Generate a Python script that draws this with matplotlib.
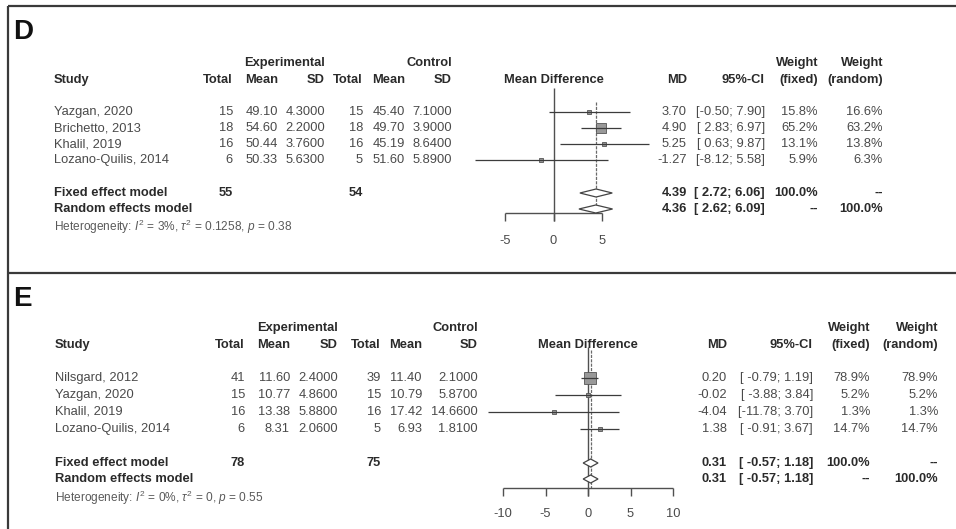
import matplotlib
matplotlib.use("Agg")
import matplotlib.pyplot as plt
from matplotlib.patches import Polygon
import numpy as np

plt.rcParams['font.family'] = ['Liberation Sans', 'DejaVu Sans']
plt.rcParams['mathtext.fontset'] = 'custom'
plt.rcParams['mathtext.rm'] = 'Liberation Sans'
plt.rcParams['mathtext.it'] = 'Liberation Sans:italic'
plt.rcParams['mathtext.bf'] = 'Liberation Sans:bold'

# ---------------- data: panel D ----------------
studies_D = ["Yazgan, 2020", "Brichetto, 2013", "Khalil, 2019", "Lozano-Quilis, 2014"]
exp_n_D = [15, 18, 16, 6]
exp_mean_D = [49.10, 54.60, 50.44, 50.33]
exp_sd_D = [4.3, 2.2, 3.76, 5.63]
ctl_n_D = [15, 18, 16, 5]
ctl_mean_D = [45.40, 49.70, 45.19, 51.60]
ctl_sd_D = [7.1, 3.9, 8.64, 5.89]
md_D = [3.70, 4.90, 5.25, -1.27]
lo_D = [-0.50, 2.83, 0.63, -8.12]
hi_D = [7.90, 6.97, 9.87, 5.58]
wfix_D = [15.8, 65.2, 13.1, 5.9]
wran_D = [16.6, 63.2, 13.8, 6.3]
pooled_D = {"fixed": (4.39, 2.72, 6.06), "random": (4.36, 2.62, 6.09)}
totals_D = (55, 54)
het_D = ("3%", "0.1258", "0.38")
ticks_D = [-5, 0, 5]
ticklabels_D = ["-5", "0", "5"]

# ---------------- data: panel E ----------------
studies_E = ["Nilsgard, 2012", "Yazgan, 2020", "Khalil, 2019", "Lozano-Quilis, 2014"]
exp_n_E = [41, 15, 16, 6]
exp_mean_E = [11.60, 10.77, 13.38, 8.31]
exp_sd_E = [2.4, 4.86, 5.88, 2.06]
ctl_n_E = [39, 15, 16, 5]
ctl_mean_E = [11.40, 10.79, 17.42, 6.93]
ctl_sd_E = [2.1, 5.87, 14.66, 1.81]
md_E = [0.20, -0.02, -4.04, 1.38]
lo_E = [-0.79, -3.88, -11.78, -0.91]
hi_E = [1.19, 3.84, 3.70, 3.67]
wfix_E = [78.9, 5.2, 1.3, 14.7]
wran_E = [78.9, 5.2, 1.3, 14.7]
pooled_E = {"fixed": (0.31, -0.57, 1.18), "random": (0.31, -0.57, 1.18)}
totals_E = (78, 75)
het_E = ("0%", "0", "0.55")
ticks_E = [-10, -5, 0, 5, 10]
ticklabels_E = ["-10", "-5", "0", "5", "10"]

# ---------------- figure ----------------
W, H = 956, 529
fig = plt.figure(figsize=(W / 100, H / 100), dpi=100)
canvas = fig.add_axes([0, 0, 1, 1])
canvas.set_xlim(0, W)
canvas.set_ylim(H, 0)
canvas.axis('off')

FS = 9.3
C_TXT = '#4a4a4a'
C_BOLD = '#2a2a2a'
C_LINE = '#505050'

# borders
canvas.plot([8, 8], [6, H], color='#3a3a3a', lw=1.6, solid_capstyle='butt')
canvas.plot([8, W], [6, 6], color='#3a3a3a', lw=1.6, solid_capstyle='butt')
canvas.plot([8, W], [273, 273], color='#3a3a3a', lw=1.6, solid_capstyle='butt')


def ci_formatter(lo_all, hi_all):
    wl = max(len(f"{v:.2f}") for v in lo_all)
    wh = max(len(f"{v:.2f}") for v in hi_all)
    return lambda a, b: "[" + f"{a:.2f}".rjust(wl) + "; " + f"{b:.2f}".rjust(wh) + "]"


def panel(letter, letter_y, studies, en, em, es, cn, cm, cs, md, lo, hi, wf, wr,
          pooled, totals, het, ticks, ticklabels, L):
    t = lambda x, y, s, **kw: canvas.text(x, y, s, fontsize=kw.pop('fs', FS),
                                          color=kw.pop('color', C_TXT), va='center', **kw)
    canvas.text(13, letter_y, letter, fontsize=20, fontweight='bold', color='#111111',
                va='center', ha='left')
    h1, h2 = L['h1'], L['h2']
    c = L['cols']
    # header
    t(c['study'], h2, "Study", ha='left', fontweight='bold', color=C_BOLD)
    t(c['esd'], h1, "Experimental", ha='right', fontweight='bold', color=C_BOLD)
    t(c['csd'], h1, "Control", ha='right', fontweight='bold', color=C_BOLD)
    for key, lab in [('en', 'Total'), ('em', 'Mean'), ('esd', 'SD'),
                     ('cn', 'Total'), ('cm', 'Mean'), ('csd', 'SD'),
                     ('md', 'MD'), ('ci', '95%-CI'), ('wf', '(fixed)'), ('wr', '(random)')]:
        t(c[key], h2, lab, ha='right', fontweight='bold', color=C_BOLD)
    t(c['wf'], h1, "Weight", ha='right', fontweight='bold', color=C_BOLD)
    t(c['wr'], h1, "Weight", ha='right', fontweight='bold', color=C_BOLD)
    t(L['zero_px'], h2, "Mean Difference", ha='center', fontweight='bold', color=C_BOLD)

    rows = [L['row0'] + i * L['step'] for i in range(len(studies))]
    fci = ci_formatter(list(lo) + [pooled['fixed'][1], pooled['random'][1]],
                       list(hi) + [pooled['fixed'][2], pooled['random'][2]])
    for i, y in enumerate(rows):
        t(c['study'], y, studies[i], ha='left')
        t(c['en'], y, f"{en[i]}", ha='right')
        t(c['em'], y, f"{em[i]:.2f}", ha='right')
        t(c['esd'], y, f"{es[i]:.4f}", ha='right')
        t(c['cn'], y, f"{cn[i]}", ha='right')
        t(c['cm'], y, f"{cm[i]:.2f}", ha='right')
        t(c['csd'], y, f"{cs[i]:.4f}", ha='right')
        t(c['md'], y, f"{md[i]:.2f}", ha='right')
        t(c['ci'], y, fci(lo[i], hi[i]), ha='right')
        t(c['wf'], y, f"{wf[i]:.1f}%", ha='right')
        t(c['wr'], y, f"{wr[i]:.1f}%", ha='right')

    yf, yr = L['fixed_y'], L['random_y']
    t(c['study'], yf, "Fixed effect model", ha='left', fontweight='bold', color=C_BOLD)
    t(c['study'], yr, "Random effects model", ha='left', fontweight='bold', color=C_BOLD)
    t(c['en'], yf, f"{totals[0]}", ha='right', fontweight='bold', color=C_BOLD)
    t(c['cn'], yf, f"{totals[1]}", ha='right', fontweight='bold', color=C_BOLD)
    for key, y in [('fixed', yf), ('random', yr)]:
        t(c['md'], y, f"{pooled[key][0]:.2f}", ha='right', fontweight='bold', color=C_BOLD)
        t(c['ci'], y, fci(pooled[key][1], pooled[key][2]), ha='right',
          fontweight='bold', color=C_BOLD)
    t(c['wf'], yf, "100.0%", ha='right', fontweight='bold', color=C_BOLD)
    t(c['wr'], yf, "--", ha='right', fontweight='bold', color=C_BOLD)
    t(c['wf'], yr, "--", ha='right', fontweight='bold', color=C_BOLD)
    t(c['wr'], yr, "100.0%", ha='right', fontweight='bold', color=C_BOLD)
    t(c['study'], L['het_y'],
      r"Heterogeneity: $I^2$ = " + het[0] + r", $\tau^2$ = " + het[1]
      + r", $p$ = " + het[2], ha='left', fs=8.6, color='#5a5a5a')

    # forest axes: x in data units, y in figure pixel rows
    x0px, x1px = L['tick_px']
    ax = fig.add_axes([x0px / W, 0, (x1px - x0px) / W, 1])
    ax.set_xlim(ticks[0], ticks[-1])
    ax.set_ylim(H, 0)
    ax.axis('off')
    base = L['base']
    ax.vlines(0, L['zero_top'], base + 8, color=C_LINE, lw=1.0, clip_on=False)
    ax.vlines(pooled['fixed'][0], L['fix_top'], base, color='#6a6a6a', lw=0.9,
              linestyles=(0, (2.5, 1)), clip_on=False)
    for i, y in enumerate(rows):
        side = max(3.2, 1.25 * np.sqrt(wf[i]))
        ax.plot(md[i], y, marker='s', ms=side * 0.72, mfc='#999999', mec='#555555',
                mew=0.6, clip_on=False, zorder=3)
        ax.hlines(y, lo[i], hi[i], color='#3c3c3c', lw=0.9, clip_on=False, zorder=4)
    for key, y in [('fixed', yf), ('random', yr)]:
        m, a, b = pooled[key]
        ax.add_patch(Polygon([(a, y), (m, y - 4), (b, y), (m, y + 4)], closed=True,
                             facecolor='white', edgecolor='#444444', lw=0.9,
                             clip_on=False, zorder=3))
    ax.hlines(base, ticks[0], ticks[-1], color=C_LINE, lw=1.0, clip_on=False)
    ax.vlines(ticks, base, base + 8, color=C_LINE, lw=1.0, clip_on=False)
    for tk, lab in zip(ticks, ticklabels):
        ax.text(tk, L['tl_y'], lab, ha='center', va='center', fontsize=FS, color=C_TXT)


L_D = dict(h1=63, h2=80,
           cols=dict(study=54, en=233, em=278, esd=325, cn=363, cm=405, csd=452,
                     md=687, ci=765, wf=818, wr=883),
           zero_px=554, row0=112, step=16.1, fixed_y=193, random_y=209, het_y=227,
           tick_px=(505, 602), base=213, zero_top=88, fix_top=102, tl_y=241)
L_E = dict(h1=328, h2=345,
           cols=dict(study=55, en=245, em=290, esd=338, cn=381, cm=422, csd=478,
                     md=727, ci=813, wf=870, wr=938),
           zero_px=588, row0=378, step=17, fixed_y=463, random_y=479, het_y=498,
           tick_px=(503, 673), base=488, zero_top=347, fix_top=350, tl_y=514)

panel("D", 32, studies_D, exp_n_D, exp_mean_D, exp_sd_D, ctl_n_D, ctl_mean_D, ctl_sd_D,
      md_D, lo_D, hi_D, wfix_D, wran_D, pooled_D, totals_D, het_D, ticks_D, ticklabels_D, L_D)
panel("E", 299, studies_E, exp_n_E, exp_mean_E, exp_sd_E, ctl_n_E, ctl_mean_E, ctl_sd_E,
      md_E, lo_E, hi_E, wfix_E, wran_E, pooled_E, totals_E, het_E, ticks_E, ticklabels_E, L_E)

fig.savefig("out.png", dpi=100, facecolor='white')
